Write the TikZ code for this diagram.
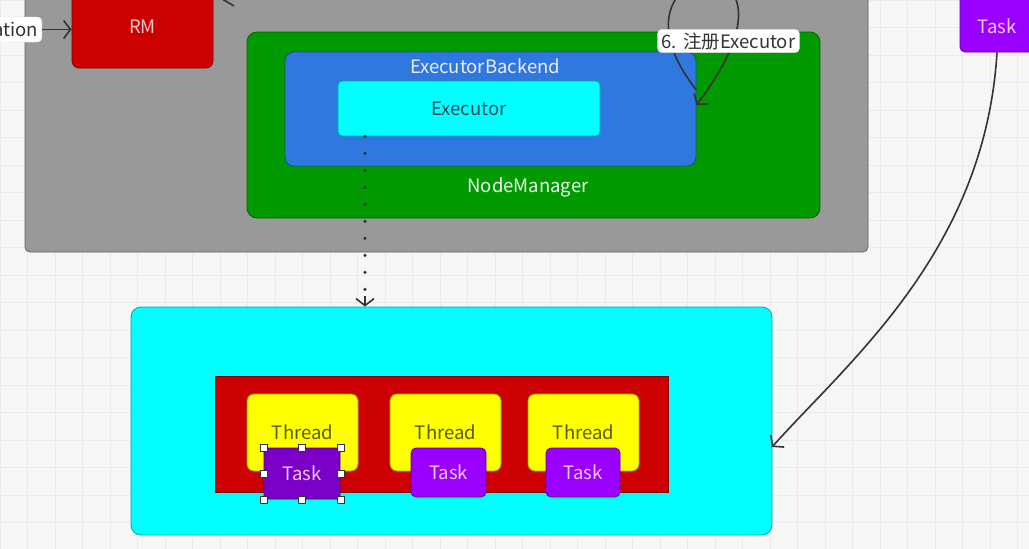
\documentclass[tikz,border=0pt]{standalone}
\usepackage{fontspec}
\setmainfont{Noto Sans CJK SC}
\usetikzlibrary{arrows.meta}
\definecolor{bgc}{HTML}{F6F6F6}
\definecolor{gridc}{HTML}{EBEBEB}
\definecolor{grayc}{HTML}{999999}
\definecolor{rmred}{HTML}{CC0000}
\definecolor{nmgreen}{HTML}{009900}
\definecolor{ebblue}{HTML}{2E78E0}
\definecolor{cyanc}{HTML}{00FFFF}
\definecolor{yelc}{HTML}{FFFF00}
\definecolor{purc}{HTML}{9900FF}
\definecolor{purdark}{HTML}{7A00C8}
\definecolor{linec}{HTML}{333333}
\definecolor{pinktxt}{HTML}{F5C8F0}
\definecolor{rmtxt}{HTML}{F8C8C8}
\definecolor{thrtxt}{HTML}{5A5A00}
\definecolor{exetxt}{HTML}{2A4A5A}
\begin{document}
\begin{tikzpicture}[x=1pt,y=-1pt,
  box/.style={draw=#1!65!black, fill=#1, line width=0.8pt, inner sep=0pt},
  txt/.style={font=\fontsize{18.5}{22}\selectfont, inner sep=0pt},
  lbl/.style={draw=black!15, fill=white, rounded corners=4pt, text=black!80,
    font=\fontsize{18.5}{22}\selectfont, inner xsep=4pt, inner ysep=3pt},
  conn/.style={draw=linec, line width=1.6pt, -{Straight Barb[length=7pt,width=18pt]}},
  handle/.style={draw=black!80, fill=white, line width=0.6pt, minimum size=7pt, inner sep=0pt}
]
\useasboundingbox (0,0) rectangle (1029,549);
\clip (0,0) rectangle (1029,549);
\fill[bgc] (0,0) rectangle (1029,549);
\foreach \gx in {0,27.5,...,1029} \draw[gridc, line width=0.6pt] (\gx,0) -- (\gx,549);
\foreach \gy in {0,27.5,...,549} \draw[gridc, line width=0.6pt] (0,\gy) -- (1029,\gy);

% YARN cluster (gray)
\node[box=grayc, rounded corners=5pt, minimum width=843pt, minimum height=292pt] (yarn) at (446.5,106) {};

% line leaving RM towards top right
\coordinate (rmout) at (234,6);
\coordinate (rmtop) at (190,-20);
\draw[linec, line width=1.6pt] (rmtop) -- (rmout);

% RM
\node[box=rmred, rounded corners=7pt, minimum width=141pt, minimum height=82pt, txt, text=rmtxt] (rm) at (142.5,27) {RM};

% ation label
\node[lbl, anchor=east, minimum height=25pt, text depth=0pt] (appl) at (42,29.5) {ation};
\draw[conn] (appl.east) -- (appl.east -| rm.west);

% NodeManager
\node[box=nmgreen, rounded corners=10pt, minimum width=573pt, minimum height=186pt] (nm) at (533.5,125) {};
\node[txt, text=white!92!green] (nmtext) at (528,187) {NodeManager};

% ExecutorBackend
\node[box=ebblue, rounded corners=9pt, minimum width=411pt, minimum height=114pt] (ebk) at (490.5,109) {};
\node[txt, text=white!92!blue] (ebktext) at (485,66) {ExecutorBackend};

% Executor
\node[box=cyanc, rounded corners=4pt, minimum width=262pt, minimum height=55pt, txt, text=exetxt] (exe) at (469,108.5) {Executor};

% self loop: register executor
\draw[conn] ([yshift=19pt]ebk.east) .. controls (590,-45) and (830,-70) .. ([yshift=4pt]ebk.east);
\node[lbl] (reg) at (728.5,41) {6.\,\,注册Executor};

% top-right Task
\node[box=purc, rounded corners=5pt, minimum width=76pt, minimum height=62pt] (tasktop) at (998,21) {};
\node[txt, text=pinktxt] (tasktoptext) at (997,26) {Task};

% Executor process (cyan)
\node[box=cyanc, rounded corners=10pt, minimum width=641pt, minimum height=228pt] (proc) at (451.5,421) {};

% dotted arrow
\coordinate (dotend) at (365,296);
\draw[linec, line width=3.4pt, line cap=round, dash pattern=on 0pt off 17pt] (exe.south -| dotend) -- (dotend);
\draw[conn] (dotend) -- (proc.north -| dotend);

% thread pool
\node[box=rmred, minimum width=453pt, minimum height=116pt] (pool) at (441.5,434) {};

\node[box=yelc, rounded corners=7pt, minimum width=111pt, minimum height=77pt, txt, text=thrtxt] (t1) at (302.5,432.5) {Thread};
\node[box=yelc, rounded corners=7pt, minimum width=111pt, minimum height=77pt, txt, text=thrtxt] (t2) at (445.5,432.5) {Thread};
\node[box=yelc, rounded corners=7pt, minimum width=111pt, minimum height=77pt, txt, text=thrtxt] (t3) at (583.5,432.5) {Thread};

\node[box=purdark, rounded corners=3pt, minimum width=76pt, minimum height=51pt, txt, text=pinktxt] (k1) at (302,473.5) {Task};
\node[box=purc, rounded corners=5pt, minimum width=75pt, minimum height=49pt, txt, text=pinktxt] (k2) at (448.5,472.5) {Task};
\node[box=purc, rounded corners=5pt, minimum width=74pt, minimum height=49pt, txt, text=pinktxt] (k3) at (583,472.5) {Task};

% selection handles on first task
\foreach \a in {north west,north,north east,west,east,south west,south,south east}
  \node[handle] at (k1.\a) {};

% curved arrow from top task to executor process
\coordinate (procin) at (772,447);
\draw[conn] (tasktop.south -| 997,0) .. controls (985,250) and (850,360) .. (procin);
\end{tikzpicture}
\end{document}
